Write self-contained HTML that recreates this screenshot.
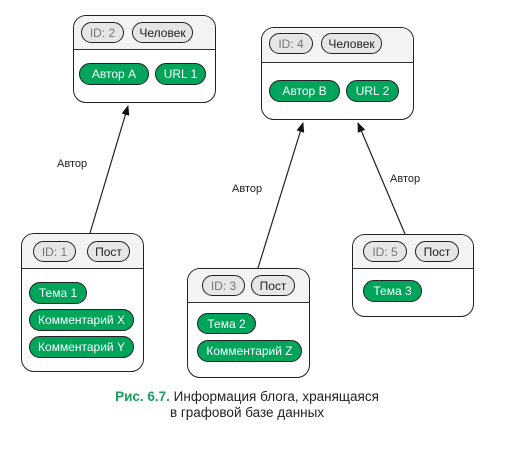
<!DOCTYPE html>
<html><head><meta charset="utf-8"><style>
body{margin:0;background:#fff;width:517px;height:462px;position:relative;overflow:hidden;font-family:"Liberation Sans",sans-serif}
.n{position:absolute;border:1.3px solid #222;border-radius:13px;background:#fff;overflow:hidden;box-sizing:border-box}
.h{position:absolute;left:0;right:0;top:0;background:#f3f3f3;border-bottom:1.3px solid #333}
.p{position:absolute;border:1.2px solid #222;border-radius:11px;box-sizing:border-box;font-size:12px;display:flex;align-items:center;justify-content:center;white-space:nowrap}
.g{background:#00a45a;color:#fff}
.w{background:#e6e6e8;color:#222}
.i{background:#e6e6e8;color:#777}
.l{position:absolute;font-size:11px;color:#222}
</style></head><body>
<svg width="517" height="462" style="position:absolute;left:0;top:0">
<defs><marker id="a" markerWidth="10" markerHeight="10" refX="9" refY="5" orient="auto" markerUnits="userSpaceOnUse"><path d="M0,1 L10,5 L0,9 z" fill="#111"/></marker></defs>
<line x1="90" y1="233" x2="128" y2="106" stroke="#222" stroke-width="1.2" marker-end="url(#a)"/>
<line x1="258" y1="268" x2="303" y2="123" stroke="#222" stroke-width="1.2" marker-end="url(#a)"/>
<line x1="405" y1="234" x2="358" y2="123" stroke="#222" stroke-width="1.2" marker-end="url(#a)"/>
</svg>
<div class="l" style="left:57px;top:158px">Автор</div>
<div class="l" style="left:232px;top:183px">Автор</div>
<div class="l" style="left:390px;top:173px">Автор</div>

<div class="n" style="left:73px;top:15px;width:143px;height:88px"><div class="h" style="height:33px"></div></div>
<div class="p i" style="left:81px;top:22px;width:43px;height:21px">ID: 2</div>
<div class="p w" style="left:132px;top:22px;width:61px;height:21px">Человек</div>
<div class="p g" style="left:79px;top:63px;width:70px;height:22px">Автор А</div>
<div class="p g" style="left:155px;top:63px;width:51px;height:22px">URL 1</div>

<div class="n" style="left:261px;top:27px;width:153px;height:93px"><div class="h" style="height:34px"></div></div>
<div class="p i" style="left:269px;top:33px;width:44px;height:21px">ID: 4</div>
<div class="p w" style="left:321px;top:33px;width:61px;height:21px">Человек</div>
<div class="p g" style="left:269px;top:80px;width:71px;height:22px">Автор В</div>
<div class="p g" style="left:346px;top:80px;width:53px;height:22px">URL 2</div>

<div class="n" style="left:21px;top:233px;width:123px;height:139px"><div class="h" style="height:34px"></div></div>
<div class="p i" style="left:33px;top:241px;width:43px;height:21px">ID: 1</div>
<div class="p w" style="left:87px;top:241px;width:43px;height:21px">Пост</div>
<div class="p g" style="left:29px;top:282px;width:58px;height:22px">Тема 1</div>
<div class="p g" style="left:29px;top:309px;width:105px;height:22px">Комментарий X</div>
<div class="p g" style="left:29px;top:336px;width:105px;height:22px">Комментарий Y</div>

<div class="n" style="left:187px;top:268px;width:123px;height:110px"><div class="h" style="height:33px"></div></div>
<div class="p i" style="left:202px;top:275px;width:43px;height:21px">ID: 3</div>
<div class="p w" style="left:251px;top:275px;width:44px;height:21px">Пост</div>
<div class="p g" style="left:197px;top:313px;width:59px;height:21px">Тема 2</div>
<div class="p g" style="left:197px;top:340px;width:105px;height:22px">Комментарий Z</div>

<div class="n" style="left:352px;top:234px;width:122px;height:83px"><div class="h" style="height:33px"></div></div>
<div class="p i" style="left:363px;top:241px;width:44px;height:21px">ID: 5</div>
<div class="p w" style="left:415px;top:241px;width:44px;height:21px">Пост</div>
<div class="p g" style="left:363px;top:280px;width:59px;height:22px">Тема 3</div>

<div style="position:absolute;left:0;width:494px;top:389px;text-align:center;font-size:13.5px;line-height:16px;color:#222"><b style="color:#1a9f5c">Рис. 6.7.</b> Информация блога, хранящаяся<br>в графовой базе данных</div>
</body></html>
